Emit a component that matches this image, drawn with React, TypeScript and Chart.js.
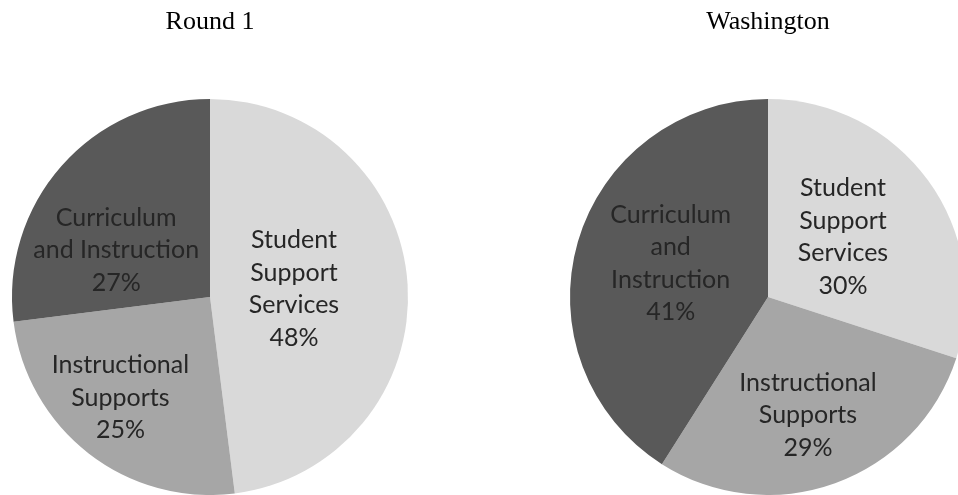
import React, { useEffect, useRef } from "react";
import Chart from "chart.js/auto";

// ---- data ----
const categories = ["Student Support Services", "Instructional Supports", "Curriculum and Instruction"];
const round1Values = [48, 25, 27];
const washingtonValues = [30, 29, 41];
const chartTitles = ["Round 1", "Washington"];
const round1LabelLines = [["Student", "Support", "Services"], ["Instructional", "Supports"], ["Curriculum", "and Instruction"]];
const washingtonLabelLines = [["Student", "Support", "Services"], ["Instructional", "Supports"], ["Curriculum", "and", "Instruction"]];

// ---- styles / layout ----
const sliceColors = ["#d9d9d9", "#a6a6a6", "#595959"];
const labelFont = "25px Lato";
const labelLineHeight = 32.5;
const labelColor = "#262626";
// label placement relative to each arc: fraction of radius and angular nudge (deg)
const round1Placement = [
  { frac: 0.426, dAngle: -1.8 },
  { frac: 0.68, dAngle: 3.9 },
  { frac: 0.53, dAngle: -14.8 },
];
const washingtonPlacement = [
  { frac: 0.485, dAngle: -2.7 },
  { frac: 0.63, dAngle: 1.1 },
  { frac: 0.52, dAngle: 2.8 },
];

const CANVAS_W = 480;
const CANVAS_H = 495;

function makeLabelPlugin(lines: string[][], placement: { frac: number; dAngle: number }[]) {
  return {
    id: "sliceLabels",
    afterDatasetsDraw(chart: any) {
      const ctx = chart.ctx;
      const meta = chart.getDatasetMeta(0);
      const values = chart.data.datasets[0].data as number[];
      const total = values.reduce((a, b) => a + b, 0);
      ctx.save();
      ctx.font = labelFont;
      ctx.fillStyle = labelColor;
      ctx.textAlign = "center";
      ctx.textBaseline = "middle";
      meta.data.forEach((arc: any, i: number) => {
        const p = arc.getProps(["x", "y", "startAngle", "endAngle", "outerRadius"], true);
        const pl = placement[i];
        const a = (p.startAngle + p.endAngle) / 2 + (pl.dAngle * Math.PI) / 180;
        const cx = p.x + Math.cos(a) * p.outerRadius * pl.frac;
        const cy = p.y + Math.sin(a) * p.outerRadius * pl.frac;
        const pct = Math.round((values[i] / total) * 100) + "%";
        const all = [...lines[i], pct];
        all.forEach((t, k) => {
          ctx.fillText(t, cx, cy + (k - (all.length - 1) / 2) * labelLineHeight);
        });
      });
      ctx.restore();
    },
  };
}

function PieChart(props: { title: string; values: number[]; lines: string[][]; placement: { frac: number; dAngle: number }[]; left: number }) {
  const ref = useRef<HTMLCanvasElement | null>(null);
  useEffect(() => {
    if (!ref.current) return;
    const chart = new Chart(ref.current, {
      type: "pie",
      data: {
        labels: categories,
        datasets: [
          {
            data: props.values,
            backgroundColor: sliceColors,
            borderWidth: 0,
            hoverOffset: 0,
            offset: 0,
          },
        ],
      },
      options: {
        animation: false,
        responsive: false,
        events: [],
        layout: { padding: 0 },
        plugins: {
          legend: { display: false },
          tooltip: { enabled: false },
          title: {
            display: true,
            text: props.title,
            color: "#000000",
            font: { family: "'Liberation Serif', 'Times New Roman', serif", size: 26, weight: "normal", lineHeight: 1.2 },
            padding: { top: 6.4, bottom: 61.4 },
          },
        },
      },
      plugins: [makeLabelPlugin(props.lines, props.placement)],
    } as any);
    return () => chart.destroy();
  }, []);
  return (
    <canvas
      ref={ref}
      width={CANVAS_W}
      height={CANVAS_H}
      style={{ position: "absolute", left: props.left, top: 0, width: CANVAS_W, height: CANVAS_H }}
    />
  );
}

export default function App() {
  return (
    <div style={{ position: "absolute", left: 0, top: 0, width: 958, height: 495, overflow: "hidden", background: "#ffffff" }}>
      <PieChart title={chartTitles[0]} values={round1Values} lines={round1LabelLines} placement={round1Placement} left={-30} />
      <PieChart title={chartTitles[1]} values={washingtonValues} lines={washingtonLabelLines} placement={washingtonPlacement} left={528} />
    </div>
  );
}
